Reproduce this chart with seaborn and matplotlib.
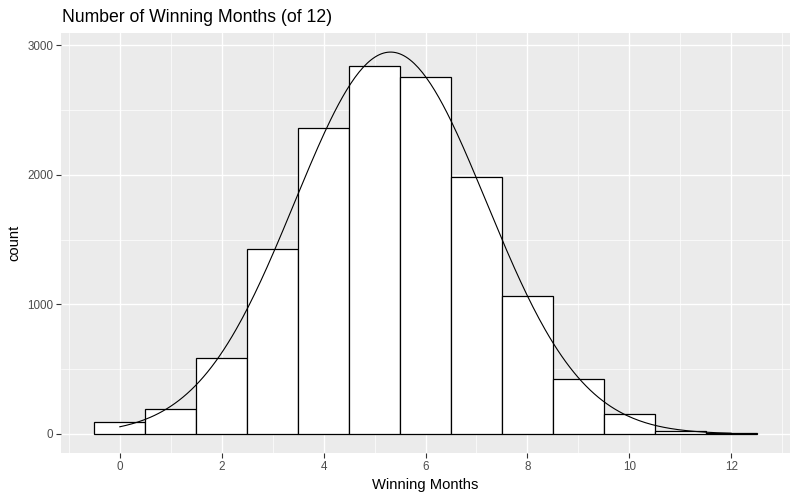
import numpy as np
import pandas as pd
import matplotlib
matplotlib.use("Agg")
import matplotlib.pyplot as plt
import seaborn as sns
from matplotlib.ticker import MultipleLocator

# counts of simulated years by number of winning months
months = [0, 1, 2, 3, 4, 5, 6, 7, 8, 9, 10, 11, 12]
counts = [90, 190, 583, 1430, 2361, 2838, 2754, 1984, 1068, 421, 152, 21, 8]

title = "Number of Winning Months (of 12)"
x_label = "Winning Months"
y_label = "count"

df = pd.DataFrame({"months": months, "count": counts})

sns.set_theme(style="darkgrid", rc={
    "axes.facecolor": "#EBEBEB",
    "grid.color": "white",
    "axes.edgecolor": "#EBEBEB",
})
plt.rcParams["font.family"] = ["Liberation Sans", "DejaVu Sans"]

# normal curve fitted to the counts, scaled to counts (bin width 1)
n = df["count"].sum()
mu = (df["months"] * df["count"]).sum() / n
sd = np.sqrt((df["count"] * (df["months"] - mu) ** 2).sum() / (n - 1))
xs = np.linspace(df["months"].min(), df["months"].max(), 300)
curve = pd.DataFrame({"x": xs,
                      "y": n * np.exp(-0.5 * ((xs - mu) / sd) ** 2) / (sd * np.sqrt(2 * np.pi))})

fig = plt.figure(figsize=(8, 5), dpi=100)
ax = fig.add_axes([61 / 800, 1 - 453 / 500, 729 / 800, 420 / 500])

sns.histplot(data=df, x="months", weights="count", discrete=True, ax=ax,
             color="white", edgecolor="black", linewidth=0.9, alpha=1, zorder=2)
sns.lineplot(data=curve, x="x", y="y", ax=ax, color="black", linewidth=0.8, zorder=3)

top = curve["y"].max()
ax.set_xlim(-1.15, 13.15)
ax.set_ylim(-0.05 * top, 1.05 * top)
ax.xaxis.set_major_locator(MultipleLocator(2))
ax.xaxis.set_minor_locator(MultipleLocator(1))
ax.yaxis.set_major_locator(MultipleLocator(1000))
ax.yaxis.set_minor_locator(MultipleLocator(500))
ax.grid(which="major", color="white", linewidth=1.0)
ax.grid(which="minor", color="white", linewidth=0.5)
ax.set_axisbelow(True)
for s in ax.spines.values():
    s.set_visible(False)

ax.tick_params(axis="both", which="major", length=3.7, width=0.8, color="#333333",
               labelsize=8.4, labelcolor="#4D4D4D", pad=2, bottom=True, left=True)
ax.tick_params(axis="both", which="minor", length=0)

ax.set_xlabel(x_label, fontsize=10.6, color="black", labelpad=4)
ax.set_ylabel(y_label, fontsize=10.6, color="black", labelpad=4)
fig.text(62 / 800, 1 - 17 / 500, title, fontsize=12.7, color="black", va="center", ha="left")

fig.savefig("out.png", dpi=100)
